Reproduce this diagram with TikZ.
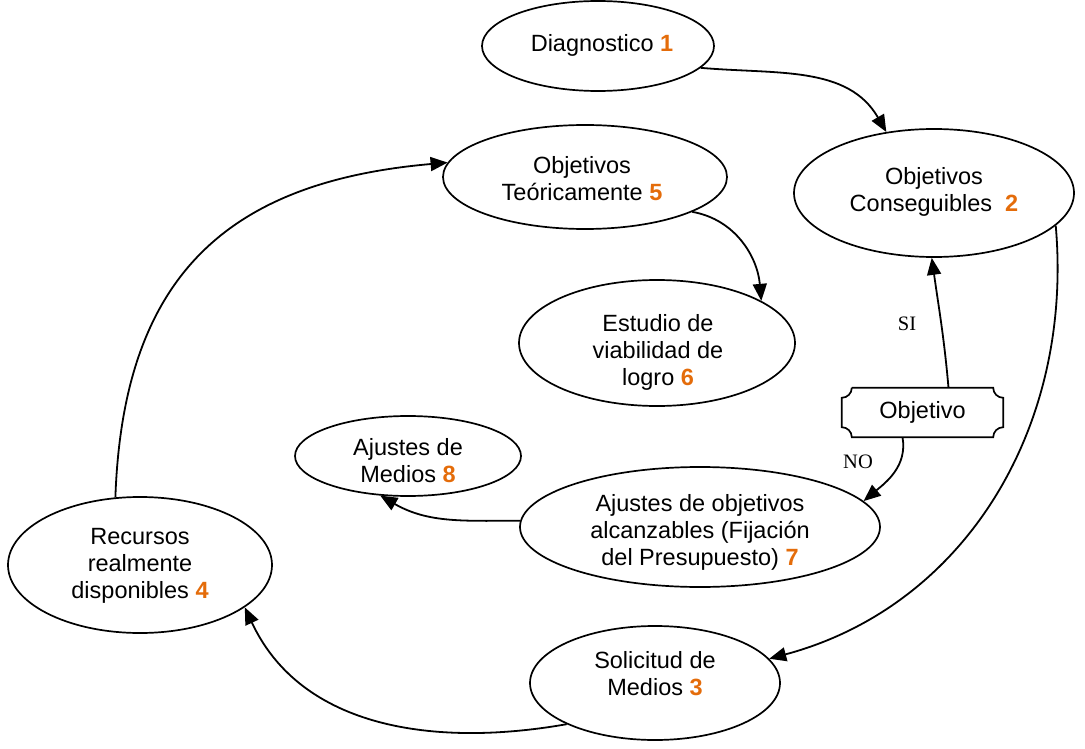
\documentclass[tikz,border=0pt]{standalone}
\usepackage{fontspec}
\setmainfont{Liberation Sans}
\newfontfamily\seriflabel{Liberation Serif}
\usetikzlibrary{shapes.geometric,arrows.meta,calc}
\definecolor{steporange}{RGB}{228,108,10}
\newcommand{\stepno}[1]{\textbf{\textcolor{steporange}{#1}}}
\begin{document}
\begin{tikzpicture}[x=1pt,y=1pt,
  phase/.style={ellipse,draw,line width=1.7pt,inner sep=0pt},
  phasetext/.style={align=center,inner sep=0pt,font=\fontsize{23.5}{27}\selectfont},
  flow/.style={line width=1.8pt,-{Triangle[length=17pt,width=14pt]}},
  answer/.style={font=\seriflabel\fontsize{20.5}{24}\selectfont}]
\useasboundingbox (0,0) rectangle (1085,-749);

% stages of the budgeting cycle (outline, then its text)
\node[phase,minimum width=232,minimum height=90]  (e1) at (598,-46)  {};
\node[phase,minimum width=280,minimum height=128] (e2) at (934,-193) {};
\node[phase,minimum width=250,minimum height=114] (e3) at (655,-683) {};
\node[phase,minimum width=264,minimum height=136] (e4) at (140,-565) {};
\node[phase,minimum width=284,minimum height=104] (e5) at (585,-177) {};
\node[phase,minimum width=276,minimum height=126] (e6) at (657,-343) {};
\node[phase,minimum width=360,minimum height=120] (e7) at (700,-527) {};
\node[phase,minimum width=226,minimum height=80]  (e8) at (408,-456) {};

\node[phasetext] (t1) at (602,-45)  {Diagnostico \stepno{1}};
\node[phasetext] (t2) at (934,-192) {Objetivos\\Conseguibles\ \ \stepno{2}};
\node[phasetext] (t3) at (655,-674) {Solicitud de\\Medios \stepno{3}};
\node[phasetext] (t4) at (140,-566) {Recursos\\realmente\\disponibles \stepno{4}};
\node[phasetext] (t5) at (582,-179) {Objetivos\\Teóricamente \stepno{5}};
\node[phasetext] (t6) at (658,-352) {Estudio de\\viabilidad de\\logro \stepno{6}};
\node[phasetext] (t7) at (700,-532) {Ajustes de objetivos\\alcanzables (Fijación\\del Presupuesto) \stepno{7}};
\node[phasetext] (t8) at (408,-461) {Ajustes de\\Medios \stepno{8}};

% decision box with concave corners
\node[minimum width=161,minimum height=49,inner sep=0pt,
  font=\fontsize{23.5}{27}\selectfont] (obj) at (922.5,-412.5) {Objetivo};
\def\cr{10}
\draw[line width=1.7pt]
  ($(obj.north west)+(\cr,0)$) -- ($(obj.north east)+(-\cr,0)$)
  arc[start angle=180,end angle=270,radius=\cr]
  -- ($(obj.south east)+(0,\cr)$)
  arc[start angle=90,end angle=180,radius=\cr]
  -- ($(obj.south west)+(\cr,0)$)
  arc[start angle=0,end angle=90,radius=\cr]
  -- ($(obj.north west)+(0,-\cr)$)
  arc[start angle=-90,end angle=0,radius=\cr];

% answer labels
\node[answer] (lsi) at (907,-324) {SI};
\node[answer] (lno) at (858,-462) {NO};

% connectors
\draw[flow] (e1.-12) to[out=-5,in=120] (e2.128);
\draw[flow] (e2.-15) to[out=-85,in=15] (e3.12);
\draw[flow] (e3.205) to[out=190,in=-65] (e4.-22);
\draw[flow] (e4.110) to[out=88,in=185,looseness=1.2] (e5.174);
\draw[flow] (e5.-18) to[out=-10,in=95] (e6.22);
\draw[flow] ([xshift=26pt]obj.north) to[out=95,in=-82] (e2.-92);
\draw[flow] ([xshift=-20pt]obj.south) to[out=-80,in=40] (e7.9);
\draw[flow] (e7.178) to[out=180,in=-30] (e8.-125);
\end{tikzpicture}
\end{document}
